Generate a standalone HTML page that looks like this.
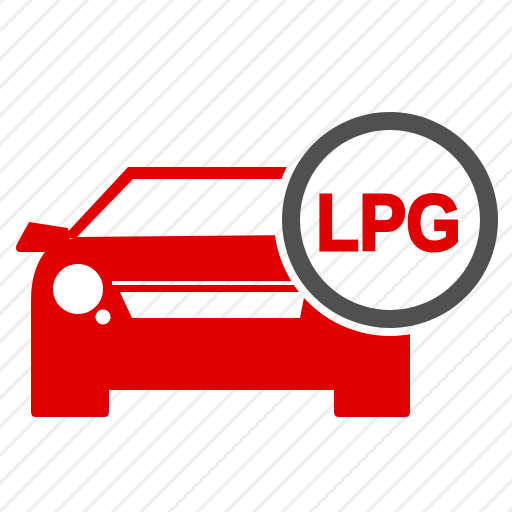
<!DOCTYPE html>
<html><head><meta charset="utf-8"><style>
html,body{margin:0;padding:0;background:#fff}
svg{display:block}
</style></head><body>
<svg width="512" height="512" viewBox="0 0 512 512">
<defs>
<pattern id="stripes" width="20" height="20" patternUnits="userSpaceOnUse" patternTransform="rotate(45)">
<rect width="20" height="20" fill="#ffffff"/>
<rect width="3.5" height="20" fill="#efefef"/>
</pattern>
</defs>
<rect width="512" height="512" fill="url(#stripes)"/>
<g>
<path fill="#e00000" d="M128,167 L290,167 L285,179 L133,179 L76,238 L62,238 Z"/>
<path fill="#e00000" d="M29,222 L68,228 L72,252 L19,252 Q14,250 17,244 Z"/>
<path fill="#e00000" d="M45,252 L75,237 L300,235 L410,235 L410,412 Q410,417 405,417 L339,417 Q334,417 334,412 L334,390 L109,390 L109,412 Q109,417 104,417 L36,417 Q31,417 31,412 L31,300 Q31,270 45,252 Z"/>
<rect x="112" y="281" width="190" height="4" fill="url(#stripes)"/>
<path fill="url(#stripes)" d="M120,292 L305,292 L300,318 L132,318 Z"/>
<circle cx="78" cy="289" r="25" fill="#ffffff"/>
<circle cx="103" cy="317" r="7.5" fill="#ffffff"/>
</g>
<circle cx="390" cy="220" r="116" fill="url(#stripes)"/>
<circle cx="390" cy="220" r="99" fill="none" stroke="#505050" stroke-width="18"/>
<text x="316" y="250" textLength="145" lengthAdjust="spacingAndGlyphs" font-family="Liberation Sans, sans-serif" font-weight="bold" font-size="80" fill="#e00000" stroke="#e00000" stroke-width="3" stroke-linejoin="miter">LPG</text>
</svg>
</body></html>
